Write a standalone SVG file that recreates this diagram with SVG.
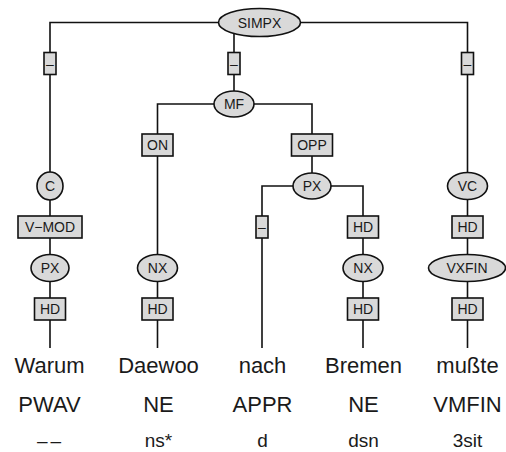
<svg xmlns="http://www.w3.org/2000/svg" width="506" height="452" viewBox="0 0 506 452">
<style>
.e{fill:#d9d9d9;stroke:#111;stroke-width:1.6}
.b{fill:#d9d9d9;stroke:#111;stroke-width:1.6}
.l{fill:#1a1a1a;font-family:"Liberation Sans",Arial,sans-serif;font-size:14px;text-anchor:middle}
.w{fill:#1a1a1a;font-family:"Liberation Sans",Arial,sans-serif;font-size:22px;text-anchor:middle}
.m{fill:#1a1a1a;font-family:"Liberation Sans",Arial,sans-serif;font-size:19px;text-anchor:middle}
.c{fill:none;stroke:#111;stroke-width:1.6}
</style>
<rect width="506" height="452" fill="#ffffff"/>
<g id="connectors">
<path class="c" d="M219 22.5 H50 V348"/>
<path class="c" d="M234 22.5 V104"/>
<path class="c" d="M300 22.5 H467.5 V348"/>
<path class="c" d="M234 104 H157.5 V348"/>
<path class="c" d="M234 104 H312 V186"/>
<path class="c" d="M312 186 H262 V348"/>
<path class="c" d="M312 186 H363 V348"/>
</g>
<g id="n-simpx"><ellipse class="e" cx="259.5" cy="22.5" rx="41" ry="14"/><text class="l" x="259.5" y="27.5">SIMPX</text></g>
<g id="e-dash1"><rect class="b" x="44" y="52.5" width="12" height="22"/><text class="l" x="50" y="68.5">–</text></g>
<g id="e-dash2"><rect class="b" x="228" y="52.5" width="12" height="22"/><text class="l" x="234" y="68.5">–</text></g>
<g id="e-dash3"><rect class="b" x="461.5" y="52.5" width="12" height="22"/><text class="l" x="467.5" y="68.5">–</text></g>
<g id="n-mf"><ellipse class="e" cx="234" cy="104" rx="20" ry="13"/><text class="l" x="234" y="109">MF</text></g>
<g id="e-on"><rect class="b" x="142" y="134" width="31" height="22"/><text class="l" x="157.5" y="150">ON</text></g>
<g id="e-opp"><rect class="b" x="291.5" y="134" width="41" height="22"/><text class="l" x="312" y="150">OPP</text></g>
<g id="n-c"><ellipse class="e" cx="50" cy="186" rx="13" ry="14"/><text class="l" x="50" y="191">C</text></g>
<g id="n-px2"><ellipse class="e" cx="312" cy="186" rx="19" ry="13"/><text class="l" x="312" y="191">PX</text></g>
<g id="n-vc"><ellipse class="e" cx="467.5" cy="186" rx="20" ry="13.5"/><text class="l" x="467.5" y="191">VC</text></g>
<g id="e-vmod"><rect class="b" x="18" y="216" width="64" height="22"/><text class="l" x="50" y="232">V−MOD</text></g>
<g id="e-dash4"><rect class="b" x="256" y="216" width="12" height="22"/><text class="l" x="262" y="232">–</text></g>
<g id="e-hd1"><rect class="b" x="347.5" y="216" width="31" height="22"/><text class="l" x="363" y="232">HD</text></g>
<g id="e-hd2"><rect class="b" x="452" y="216" width="31" height="22"/><text class="l" x="467.5" y="232">HD</text></g>
<g id="n-px1"><ellipse class="e" cx="50" cy="268" rx="19" ry="13.5"/><text class="l" x="50" y="273">PX</text></g>
<g id="n-nx1"><ellipse class="e" cx="157.5" cy="268" rx="20" ry="13.5"/><text class="l" x="157.5" y="273">NX</text></g>
<g id="n-nx2"><ellipse class="e" cx="363" cy="268" rx="20" ry="13.5"/><text class="l" x="363" y="273">NX</text></g>
<g id="n-vxfin"><ellipse class="e" cx="467" cy="268" rx="38.5" ry="13.5"/><text class="l" x="467" y="273">VXFIN</text></g>
<g id="e-hd3"><rect class="b" x="34.5" y="298" width="31" height="22"/><text class="l" x="50" y="314">HD</text></g>
<g id="e-hd4"><rect class="b" x="142" y="298" width="31" height="22"/><text class="l" x="157.5" y="314">HD</text></g>
<g id="e-hd5"><rect class="b" x="347.5" y="298" width="31" height="22"/><text class="l" x="363" y="314">HD</text></g>
<g id="e-hd6"><rect class="b" x="452" y="298" width="31" height="22"/><text class="l" x="467.5" y="314">HD</text></g>
<g id="t-warum"><text class="w" x="49.5" y="373">Warum</text><text class="w" x="49.5" y="411.5">PWAV</text><text class="m" x="50.5" y="447" letter-spacing="3">––</text></g>
<g id="t-daewoo"><text class="w" x="158.5" y="373">Daewoo</text><text class="w" x="158.5" y="411.5">NE</text><text class="m" x="158.5" y="447">ns*</text></g>
<g id="t-nach"><text class="w" x="262.5" y="373">nach</text><text class="w" x="262.5" y="411.5">APPR</text><text class="m" x="262.5" y="447">d</text></g>
<g id="t-bremen"><text class="w" x="363.5" y="373">Bremen</text><text class="w" x="363.5" y="411.5">NE</text><text class="m" x="363.5" y="447">dsn</text></g>
<g id="t-musste"><text class="w" x="467.5" y="373">mußte</text><text class="w" x="467.5" y="411.5">VMFIN</text><text class="m" x="467.5" y="447">3sit</text></g>
</svg>
